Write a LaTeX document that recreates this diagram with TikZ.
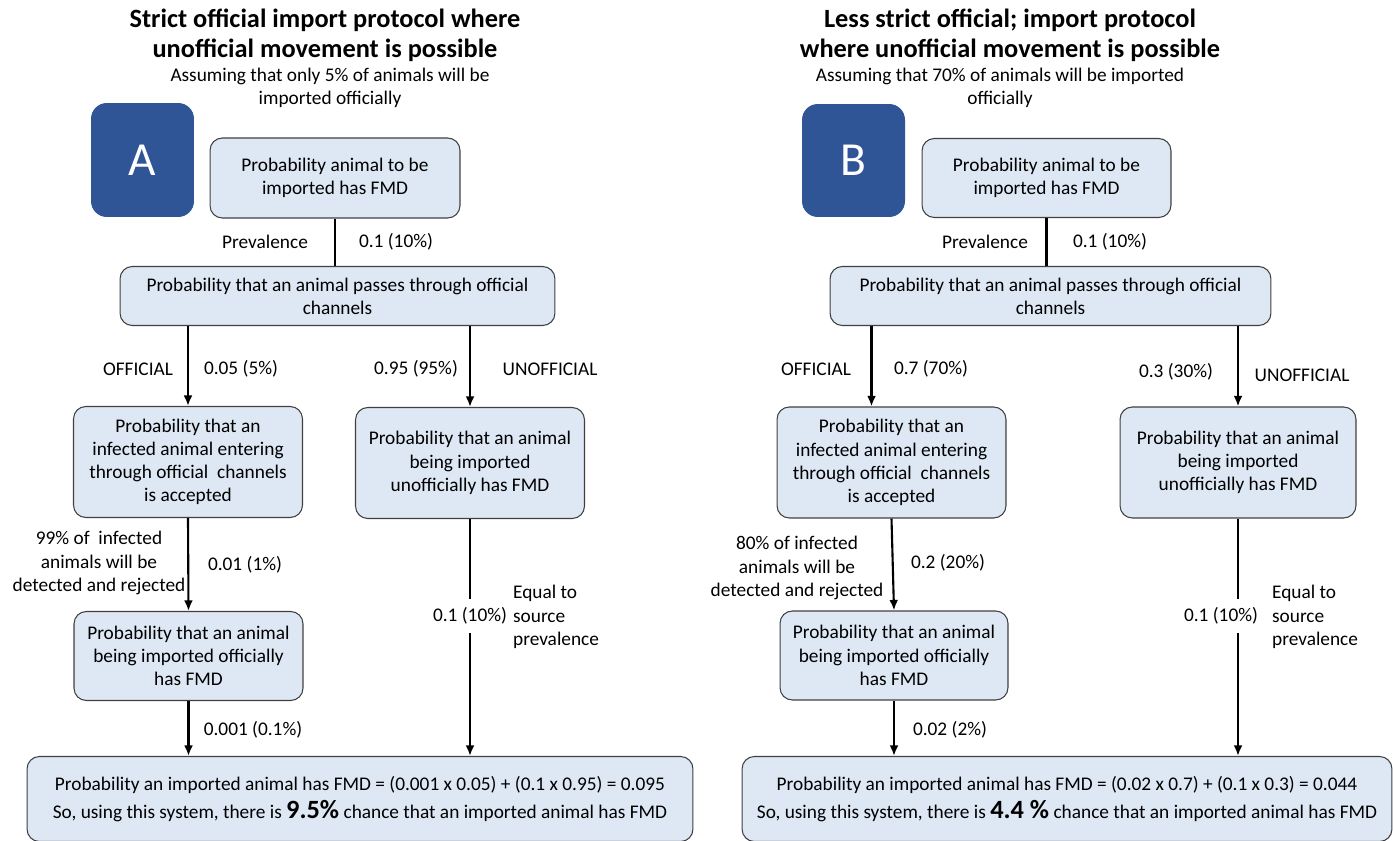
\documentclass[tikz,border=0pt]{standalone}
\usepackage{fontspec}
\setmainfont{Carlito}
\usepackage{tikz}
\usetikzlibrary{positioning, arrows.meta, calc}
\definecolor{boxblue}{HTML}{DDE8F4}
\definecolor{boxedge}{HTML}{404040}
\definecolor{letterblue}{HTML}{2F5597}

\tikzset{
  probbox/.style={draw=boxedge, fill=boxblue, line width=0.6pt, rounded corners=7pt,
                  align=center, inner sep=2pt, font=\fontsize{11}{13.2}\selectfont},
  letterbox/.style={fill=letterblue, rounded corners=9pt, text=white,
                    font=\fontsize{27}{30}\selectfont},
  lbl/.style={align=center, inner sep=1pt, font=\fontsize{11}{13.2}\selectfont},
  onlbl/.style={lbl, fill=white, inner xsep=6pt, inner ysep=5pt},
  arr/.style={line width=1.2pt, -{Latex[length=6pt,width=5pt]}},
  link/.style={line width=1.2pt},
  ttl/.style={align=center, font=\fontsize{15}{17}\selectfont\bfseries},
}

\begin{document}
\begin{tikzpicture}[x=0.02cm, y=-0.02cm]
  \useasboundingbox (0,0) rectangle (1393,841);

  % ---------- A: strict protocol ----------
  \node[ttl] (titleA) at (325,35) {Strict official import protocol where\\unofficial movement is possible};
  \node[lbl, font=\fontsize{11}{13}\selectfont] (subA) at (330,88) {Assuming that only 5\% of animals will be\\imported officially};
  \node[letterbox, minimum width=2.06cm, minimum height=2.28cm] (letterA) at (142.5,160) {A};

  \node[probbox, minimum width=5cm, minimum height=1.6cm] (topA) at (335,178)
    {Probability animal to be\\imported has FMD};
  \node[probbox, minimum width=8.7cm, minimum height=1.18cm] (chanA) at (337.5,296)
    {Probability that an animal passes through official\\channels};
  \node[probbox, minimum width=4.58cm, minimum height=2.22cm] (accA) at (188,462)
    {Probability that an\\infected animal entering\\through official~ channels\\is accepted};
  \node[probbox, minimum width=4.58cm, minimum height=2.22cm] (unoffA) at (470,463)
    {Probability that an animal\\being imported\\unofficially has FMD};
  \node[probbox, minimum width=4.58cm, minimum height=1.78cm] (offA) at (188.5,656)
    {Probability that an animal\\being imported officially\\has FMD};
  \node[probbox, minimum width=13.32cm, minimum height=1.7cm] (finalA) at (360,799)
    {Probability an imported animal has FMD = (0.001 x 0.05) + (0.1 x 0.95) = 0.095\\[3pt]
     So, using this system, there is {\fontsize{15}{17}\selectfont\bfseries 9.5\%} chance that an imported animal has FMD};

  \draw[link] (topA.south) -- (topA.south |- chanA.north);
  \draw[arr] (chanA.south -| accA.north) -- (accA.north);
  \draw[arr] (chanA.south -| unoffA.north) -- (unoffA.north);
  \draw[arr] (accA.south) -- (offA.north);
  \draw[arr] (offA.south) -- (offA.south |- finalA.north);
  \draw[arr] (unoffA.south) -- node[onlbl, pos=0.41] (eqA) {0.1 (10\%)} (unoffA.south |- finalA.north);

  \node[lbl] (prevA) at (265,242) {Prevalence};
  \node[lbl] (pA) at (396,242) {0.1 (10\%)};
  \node[lbl] (offlA) at (138,369) {OFFICIAL};
  \node[lbl] (poffA) at (241,369) {0.05 (5\%)};
  \node[lbl] (punA) at (416,369) {0.95 (95\%)};
  \node[lbl] (unlA) at (550,369) {UNOFFICIAL};
  \node[lbl] (detA) at (99,563) {99\% of~ infected\\animals will be\\detected and rejected};
  \node[lbl] (paccA) at (245,565) {0.01 (1\%)};
  \node[lbl] (pfinA) at (253,730) {0.001 (0.1\%)};
  \node[lbl, align=left, anchor=west] (srcA) at (511,617) {Equal to\\source\\prevalence};

  % ---------- B: less strict protocol ----------
  \node[ttl] (titleB) at (1010,35) {Less strict official; import protocol\\where unofficial movement is possible};
  \node[lbl, font=\fontsize{11}{13}\selectfont] (subB) at (1000,88) {Assuming that 70\% of animals will be imported\\officially};
  \node[letterbox, minimum width=2.06cm, minimum height=2.26cm] (letterB) at (853.5,160.5) {B};

  \node[probbox, minimum width=4.98cm, minimum height=1.58cm] (topB) at (1046.5,178)
    {Probability animal to be\\imported has FMD};
  \node[probbox, minimum width=8.82cm, minimum height=1.18cm] (chanB) at (1050.5,296)
    {Probability that an animal passes through official\\channels};
  \node[probbox, minimum width=4.58cm, minimum height=2.22cm] (accB) at (891.5,462.5)
    {Probability that an\\infected animal entering\\through official~ channels\\is accepted};
  \node[probbox, minimum width=4.72cm, minimum height=2.22cm] (unoffB) at (1238,462.5)
    {Probability that an animal\\being imported\\unofficially has FMD};
  \node[probbox, minimum width=4.56cm, minimum height=1.78cm] (offB) at (894,655.5)
    {Probability that an animal\\being imported officially\\has FMD};
  \node[probbox, minimum width=13cm, minimum height=1.7cm] (finalB) at (1067,799)
    {Probability an imported animal has FMD = (0.02 x 0.7) + (0.1 x 0.3) = 0.044\\[3pt]
     So, using this system, there is {\fontsize{15}{17}\selectfont\bfseries 4.4 \%} chance that an imported animal has FMD};

  \coordinate (inB) at ($(accB.north)+(-20,0)$);
  \draw[link] (topB.south) -- (topB.south |- chanB.north);
  \draw[arr] (chanB.south -| inB) -- (inB);
  \draw[arr] (chanB.south -| unoffB.north) -- (unoffB.north);
  \draw[arr] (accB.south) -- (offB.north);
  \draw[arr] (offB.south) -- (offB.south |- finalB.north);
  \draw[arr] (unoffB.south) -- node[onlbl, pos=0.41, xshift=-0.34cm] (eqB) {0.1 (10\%)} (unoffB.south |- finalB.north);

  \node[lbl] (prevB) at (985,242) {Prevalence};
  \node[lbl] (pB) at (1110,242) {0.1 (10\%)};
  \node[lbl] (offlB) at (816,369) {OFFICIAL};
  \node[lbl] (poffB) at (931,369) {0.7 (70\%)};
  \node[lbl] (punB) at (1176,372) {0.3 (30\%)};
  \node[lbl] (unlB) at (1302,375) {UNOFFICIAL};
  \node[lbl] (detB) at (797,568) {80\% of infected\\animals will be\\detected and rejected};
  \node[lbl] (paccB) at (948,563) {0.2 (20\%)};
  \node[lbl] (pfinB) at (950,730) {0.02 (2\%)};
  \node[lbl, align=left, anchor=west] (srcB) at (1270,617) {Equal to\\source\\prevalence};
\end{tikzpicture}
\end{document}
